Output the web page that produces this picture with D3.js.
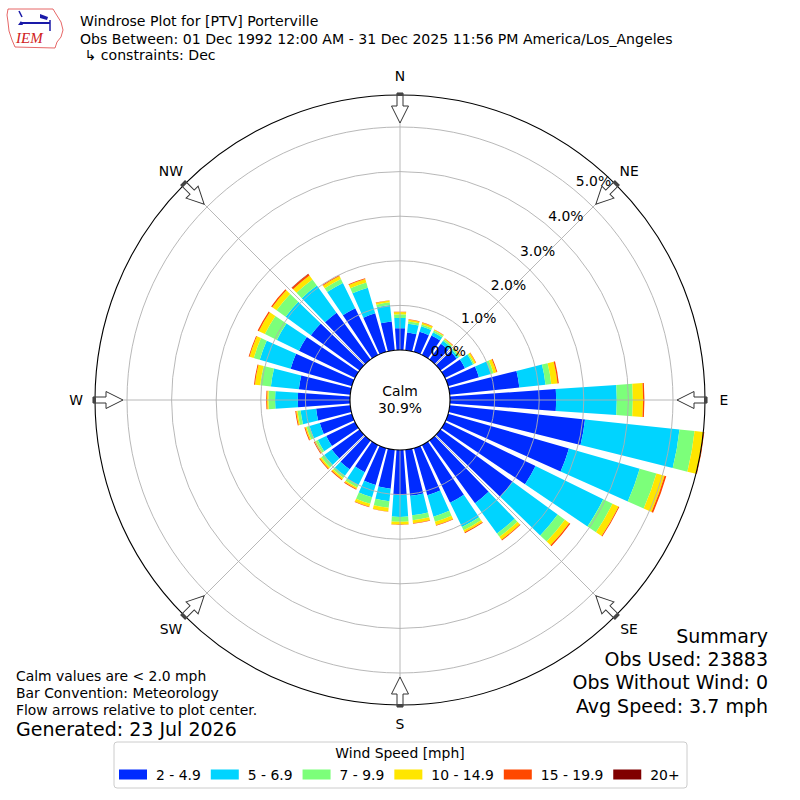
<!DOCTYPE html>
<html><head><meta charset="utf-8">
<script src="https://cdn.jsdelivr.net/npm/d3@7"></script>
<style>body{margin:0;background:#fff} svg{display:block} text{font-family:"DejaVu Sans",sans-serif;fill:#000}</style>
</head><body><svg id="c" width="800" height="800"></svg>
<script>
// ---- data ----
const directions = [0,10,20,30,40,50,60,70,80,90,100,110,120,130,140,150,160,170,180,190,200,210,220,230,240,250,260,270,280,290,300,310,320,330,340,350];
const speedBins = ["2 - 4.9","5 - 6.9","7 - 9.9","10 - 14.9","15 - 19.9","20+"];
const binColors = ["#002bff","#00d4ff","#7cff7a","#ffe600","#ff4800","#800000"];
// percent of observations per direction and speed bin
const spd2to5   = [0.49,0.40,0.47,0.49,0.44,0.45,0.50,0.72,1.57,2.38,3.05,2.82,2.26,2.00,1.74,1.44,1.10,1.04,1.01,0.88,0.86,0.68,0.80,0.77,0.72,0.75,0.77,1.17,1.16,1.43,1.40,1.35,1.30,1.17,0.90,0.65];
const spd5to7   = [0.23,0.20,0.13,0.08,0.08,0.05,0.20,0.28,0.59,1.36,2.13,1.65,1.69,1.25,0.84,0.61,0.50,0.44,0.49,0.28,0.29,0.32,0.18,0.21,0.21,0.24,0.35,0.51,0.63,0.72,0.55,0.70,0.75,0.63,0.60,0.37];
const spd7to10  = [0.08,0.05,0.04,0.04,0.04,0.04,0.03,0.06,0.13,0.36,0.34,0.39,0.23,0.20,0.09,0.08,0.12,0.11,0.11,0.15,0.15,0.06,0.06,0.08,0.05,0.07,0.07,0.15,0.24,0.14,0.30,0.25,0.17,0.10,0.12,0.06];
const spd10to15 = [0.05,0.04,0.04,0.02,0.02,0.02,0.04,0.07,0.14,0.23,0.20,0.19,0.15,0.12,0.08,0.05,0.08,0.07,0.06,0.08,0.07,0.04,0.04,0.04,0.03,0.03,0.03,0.03,0.12,0.10,0.15,0.12,0.11,0.07,0.08,0.04];
const spd15to20 = [0.01,0.01,0.01,0.01,0.01,0.01,0.01,0.02,0.03,0.03,0.02,0.04,0.02,0.03,0.02,0.02,0.01,0.01,0.01,0.01,0.01,0.02,0.02,0.02,0.02,0.02,0.02,0.02,0.02,0.02,0.03,0.03,0.04,0.02,0.02,0.01];
const spd20plus = [0,0,0,0,0,0,0,0,0,0,0,0,0,0,0,0,0,0,0,0,0,0,0,0,0,0,0,0,0,0,0,0,0.01,0,0,0];
const ringTicks = [0,1,2,3,4,5];
const compassLabels = ["N","NE","E","SE","S","SW","W","NW"];
const compassAngles = [0,45,90,135,180,225,270,315];
const calmValue = 30.9;
const titleLines = ["Windrose Plot for [PTV] Porterville","Obs Between: 01 Dec 1992 12:00 AM - 31 Dec 2025 11:56 PM America/Los_Angeles"," \u21b3 constraints: Dec"];
const noteLines = ["Calm values are < 2.0 mph","Bar Convention: Meteorology","Flow arrows relative to plot center."];
const generatedText = "Generated: 23 Jul 2026";
const summaryLines = ["Summary","Obs Used: 23883","Obs Without Wind: 0","Avg Speed: 3.7 mph"];
const legendTitle = "Wind Speed [mph]";

// ---- layout ----
const svg = d3.select("#c");
const cx = 400, cy = 400, outerR = 305, calmR = 50;
const r = d3.scaleLinear().domain([0,5]).range([calmR, 273]);
const rad = d => d*Math.PI/180;
const series = [spd2to5,spd5to7,spd7to10,spd10to15,spd15to20,spd20plus];

const plot = svg.append("g").attr("transform",`translate(${cx},${cy})`);

// bars
const segs = [];
directions.forEach((dir,i)=>{
  let cum = 0;
  series.forEach((s,k)=>{
    const v = s[i];
    if (v>0) segs.push({dir, k, r0: cum, r1: cum+v});
    cum += v;
  });
});
const arc = d3.arc()
  .innerRadius(d=>r(d.r0)).outerRadius(d=>r(d.r1))
  .startAngle(d=>rad(d.dir-4)).endAngle(d=>rad(d.dir+4));
plot.append("g").selectAll("path").data(segs).join("path")
  .attr("d",arc).attr("fill",d=>binColors[d.k]);

// grid
plot.append("g").selectAll("circle").data(ringTicks.slice(1)).join("circle")
  .attr("r",d=>r(d)).attr("fill","none").attr("stroke","#b0b0b0").attr("stroke-width",0.9);
plot.append("g").selectAll("line").data(compassAngles).join("line")
  .attr("x1",d=>calmR*Math.sin(rad(d))).attr("y1",d=>-calmR*Math.cos(rad(d)))
  .attr("x2",d=>outerR*Math.sin(rad(d))).attr("y2",d=>-outerR*Math.cos(rad(d)))
  .attr("stroke","#b0b0b0").attr("stroke-width",0.9);

// outer circle
plot.append("circle").attr("r",outerR).attr("fill","none").attr("stroke","#000").attr("stroke-width",1.1);

// ring labels
plot.append("g").selectAll("text").data(ringTicks).join("text")
  .attr("x",d=>(r(d)+19)*Math.sin(rad(44.5-0.6*d)))
  .attr("y",d=>-(r(d)+19)*Math.cos(rad(44.5-0.6*d)))
  .attr("text-anchor","middle").attr("dominant-baseline","central")
  .attr("font-size","13.9px").text(d=>d.toFixed(1)+"%");

// calm circle
plot.append("circle").attr("r",calmR).attr("fill","#fff").attr("stroke","#000").attr("stroke-width",1.1);
plot.append("text").attr("y",-9).attr("text-anchor","middle").attr("dominant-baseline","central")
  .attr("font-size","13.9px").text("Calm");
plot.append("text").attr("y",8).attr("text-anchor","middle").attr("dominant-baseline","central")
  .attr("font-size","13.9px").text(calmValue.toFixed(1)+"%");

// arrows
const arrows = plot.append("g").selectAll("g").data(compassAngles).join("g")
  .attr("transform",d=>`rotate(${d})`);
arrows.append("path")
  .attr("d","M-3,-307L3,-307L3,-294L8.5,-294L0,-277L-8.5,-294L-3,-294Z")
  .attr("fill","#fff").attr("stroke","#333").attr("stroke-width",1).attr("stroke-linejoin","miter");
arrows.append("rect").attr("x",-3).attr("y",-307).attr("width",6).attr("height",3).attr("fill","#444");

// compass labels
plot.append("g").selectAll("text").data(compassLabels).join("text")
  .attr("x",(d,i)=>324*Math.sin(rad(compassAngles[i])))
  .attr("y",(d,i)=>-324*Math.cos(rad(compassAngles[i])))
  .attr("text-anchor","middle").attr("dominant-baseline","central")
  .attr("font-size","13.9px").text(d=>d);

// title
svg.append("g").selectAll("text").data(titleLines).join("text")
  .attr("x",80).attr("y",(d,i)=>[26,44,60][i]).attr("font-size","14.1px")
  .attr("xml:space","preserve").style("white-space","pre").text(d=>d);

// notes
svg.append("g").selectAll("text").data(noteLines).join("text")
  .attr("x",16).attr("y",(d,i)=>676+17*i).attr("dominant-baseline","central")
  .attr("font-size","13.9px").text(d=>d);
svg.append("text").attr("x",16).attr("y",729).attr("dominant-baseline","central")
  .attr("font-size","19px").text(generatedText);
svg.append("g").selectAll("text").data(summaryLines).join("text")
  .attr("x",768).attr("y",(d,i)=>[636,659,682,706][i]).attr("dominant-baseline","central")
  .attr("text-anchor","end").attr("font-size","19px").text(d=>d);

// legend
const lg = svg.append("g");
lg.append("rect").attr("x",114).attr("y",742).attr("width",573).attr("height",46).attr("rx",3)
  .attr("fill","#fff").attr("stroke","#cccccc").attr("stroke-width",1);
lg.append("text").attr("x",400).attr("y",753).attr("text-anchor","middle").attr("dominant-baseline","central")
  .attr("font-size","13.9px").text(legendTitle);
let lx = 119;
speedBins.forEach((b,k)=>{
  lg.append("rect").attr("x",lx).attr("y",769.5).attr("width",28).attr("height",10).attr("fill",binColors[k]);
  const t = lg.append("text").attr("x",lx+37).attr("y",775).attr("dominant-baseline","central")
    .attr("font-size","13.9px").text(b);
  lx = lx + 37 + t.node().getComputedTextLength() + 10;
});

// IEM logo
const logo = svg.append("g");
logo.append("path").attr("d","M8,9L53,9L56,14L61,22L63,30L61,37L57,42L55,48L15,47L12,40L9,31L8,22L7,15Z")
  .attr("fill","#fff").attr("stroke","#e04040").attr("stroke-width",0.8);
logo.append("line").attr("x1",21).attr("y1",23).attr("x2",50).attr("y2",23).attr("stroke","#1a1aa8").attr("stroke-width",2);
logo.append("path").attr("d","M40,14L48,17L47,20L40,18Z").attr("fill","#1a1aa8");
logo.append("line").attr("x1",19).attr("y1",11).attr("x2",22).attr("y2",17).attr("stroke","#1a1aa8").attr("stroke-width",1.5);
logo.append("path").attr("d","M18,25L21,21L23,25Z").attr("fill","#1a1aa8");
logo.append("line").attr("x1",50).attr("y1",20).attr("x2",50).attr("y2",31).attr("stroke","#1a1aa8").attr("stroke-width",1.5);
logo.append("text").attr("x",16).attr("y",43).attr("font-size","15px").attr("font-style","italic")
  .style("font-family","'Liberation Serif',serif").style("fill","#d02020").text("IEM");
</script></body></html>
